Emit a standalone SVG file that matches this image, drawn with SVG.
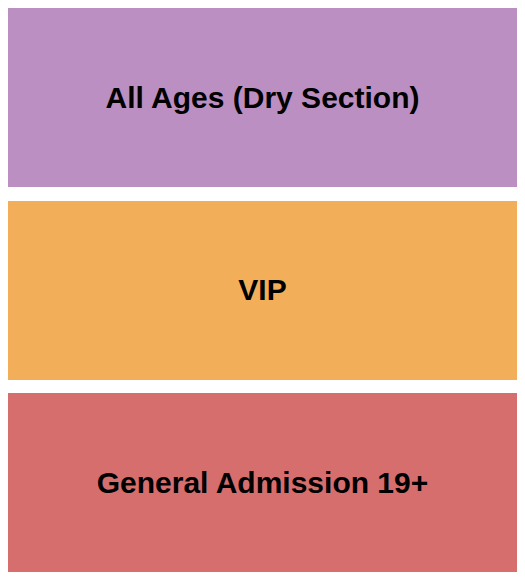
<svg xmlns="http://www.w3.org/2000/svg" width="525" height="580" viewBox="0 0 525 580">
<style>
.lbl{font-family:"Liberation Sans",Arial,sans-serif;font-weight:bold;font-size:30px;fill:#000;text-anchor:middle}
</style>
<rect width="525" height="580" fill="#fff"/>
<g id="all-ages"><rect x="8" y="8" width="509" height="179" fill="#BB8FC2"/><text class="lbl" x="262.5" y="108">All Ages (Dry Section)</text></g>
<g id="vip"><rect x="8" y="201" width="509" height="179" fill="#F3AE59"/><text class="lbl" x="262.5" y="300">VIP</text></g>
<g id="ga"><rect x="8" y="393" width="509" height="179" fill="#D66E6D"/><text class="lbl" x="262.5" y="493">General Admission 19+</text></g>
<g id="connectors"/>
</svg>
